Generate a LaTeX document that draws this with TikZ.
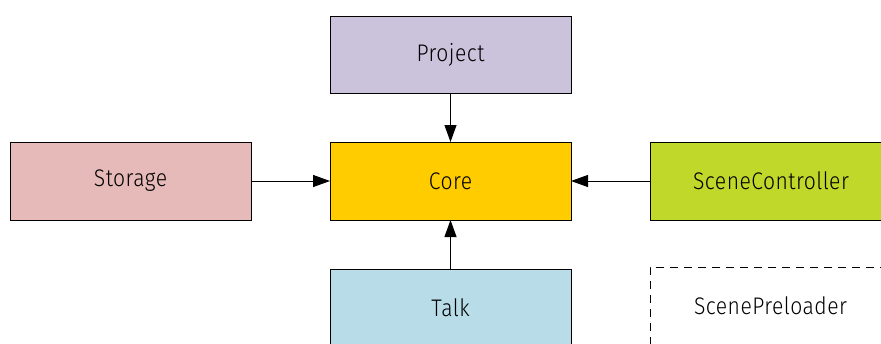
\documentclass[tikz,border=0pt]{standalone}
\usepackage{fontspec}
\setmainfont{Fira Sans}[UprightFont=* Light, FakeStretch=0.88, LetterSpace=2]
\usetikzlibrary{arrows.meta}
\definecolor{projfill}{RGB}{203,195,219}
\definecolor{storfill}{RGB}{230,186,184}
\definecolor{corefill}{RGB}{255,204,0}
\definecolor{scfill}{RGB}{192,216,42}
\definecolor{talkfill}{RGB}{184,221,232}
\tikzset{
  module/.style={draw=black, line width=1pt, rectangle, anchor=north west,
    minimum width=241pt, minimum height=78pt, inner sep=0pt, outer sep=0pt,
    font=\fontsize{24}{28}\selectfont},
  dep/.style={draw=black, line width=1pt, -{Triangle[length=17pt,width=12pt]}},
}
\begin{document}
\begin{tikzpicture}[x=1pt,y=-1pt]
  \useasboundingbox (0,0) rectangle (881,343);
  \begin{scope}
    \clip (0,0) rectangle (881,343);
    \node[module, fill=projfill, minimum height=77pt] (project) at (330,16) {Project};
    \node[module, fill=storfill] (storage) at (10,142) {Storage};
    \node[module, fill=corefill] (core) at (330,142) {Core};
    \node[module, fill=scfill, minimum width=242pt] (scenectrl) at (650,142) {SceneController};
    \node[module, fill=talkfill] (talk) at (330,269) {Talk};
    \node[module, dash pattern=on 8pt off 6pt] (preloader) at (650,267) {ScenePreloader};
  \end{scope}
  \draw[dep] (project) -- (core);
  \draw[dep] (storage) -- (core);
  \draw[dep] (scenectrl) -- (core);
  \draw[dep] (talk) -- (core);
\end{tikzpicture}
\end{document}
